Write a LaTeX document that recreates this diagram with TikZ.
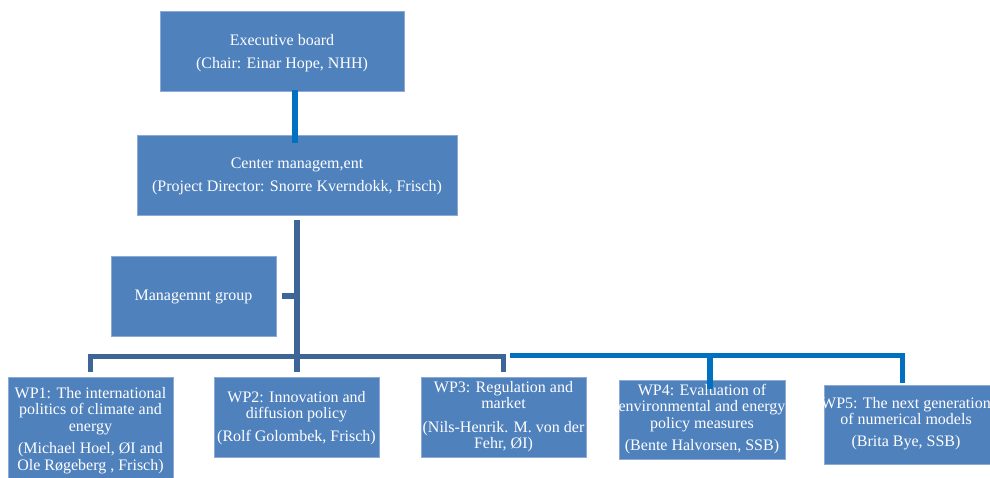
\documentclass[tikz,border=0pt]{standalone}
\usepackage{fontspec}
\setmainfont{Liberation Serif}
\usetikzlibrary{calc}
\definecolor{boxblue}{HTML}{4F81BD}
\definecolor{boxedge}{HTML}{8DAAD6}
\definecolor{brightl}{HTML}{0070C0}
\definecolor{darkl}{HTML}{3E6597}
\tikzset{
  box/.style={rectangle, fill=boxblue, draw=boxedge, line width=0.8pt, inner sep=0pt},
  txt/.style={text=white, inner sep=0pt, anchor=base},
  brightline/.style={draw=brightl, line width=5.5pt, line join=miter},
  darkline/.style={draw=darkl, line width=5.5pt, line join=miter},
}
\newcommand{\wptext}[1]{\parbox[t]{240pt}{\centering\fontsize{16}{16.5}\selectfont #1}}
\newcommand{\toptext}[1]{\parbox[t]{330pt}{\centering\fontsize{16}{23}\selectfont #1}}
\begin{document}
\begin{tikzpicture}[x=1pt,y=-1pt]
\useasboundingbox (0,0) rectangle (990,477);
% boxes
\node[box, minimum width=244, minimum height=80] (exec) at (282,51) {};
\node[box, minimum width=320, minimum height=80] (ce) at (297,175) {};
\node[box, minimum width=165, minimum height=80] (mg) at (193.5,296) {};
\node[box, minimum width=165, minimum height=103] (wp1) at (90.5,428.5) {};
\node[box, minimum width=165, minimum height=80] (wp2) at (296.5,417) {};
\node[box, minimum width=165, minimum height=80] (wp3) at (503.5,417) {};
\node[box, minimum width=166, minimum height=79] (wp4) at (702,419.5) {};
\node[box, minimum width=166, minimum height=79] (wp5) at (907,424.5) {};
% texts
\node[txt] (texec) at (282,45) {\toptext{Executive board\\(Chair: Einar Hope, NHH)}};
\node[txt] (tce) at (297,168) {\toptext{Center managem,ent\\(Project Director: Snorre Kverndokk, Frisch)}};
\node[txt] (tmg) at (193.5,300) {\wptext{Managemnt group}};
\node[txt] (twp1) at (90.5,398) {\wptext{WP1: The international\\politics of climate and\\energy\\[6pt](Michael Hoel, ØI and\\Ole Røgeberg , Frisch)}};
\node[txt] (twp2) at (296.5,402) {\wptext{WP2: Innovation and\\diffusion policy\\[6pt](Rolf Golombek, Frisch)}};
\node[txt] (twp3) at (503.5,392) {\wptext{WP3: Regulation and\\market\\[7pt](Nils-Henrik. M. von der\\Fehr, ØI)}};
\node[txt] (twp4) at (702,395) {\wptext{WP4: Evaluation of\\environmental and energy\\policy measures\\[6pt](Bente Halvorsen, SSB)}};
\node[txt] (twp5) at (906,408) {\wptext{WP5: The next generation\\of numerical models\\[5pt](Brita Bye, SSB)}};
% bus coordinates
\coordinate (busL) at (297,356.5);
\coordinate (busR) at (700,355.5);
% connectors
\draw[brightline] ($(exec.south)+(13,-1)$) -- ($(exec.south)+(13,52)$);
\draw[darkline] ($(ce.south)+(0,5)$) -- ($(wp2.north)+(0.5,-5)$);
\draw[darkline] ($(mg.east)+(6,0)$) -- (mg.east -| ce.south);
\draw[darkline] ($(wp1.north)+(0,-5)$) -- (wp1.north |- busL) -- (wp3.north |- busL) -- ($(wp3.north)+(0,-5)$);
\draw[brightline] ($(wp3.north |- busR)+(6.5,0)$) -- ($(wp5.north |- busR)+(-4.5,0)$) -- ($(wp5.north)+(-4.5,-2)$);
\draw[brightline] ($(wp4.north |- busR)+(8,0)$) -- ($(wp4.north)+(8,9)$);
\end{tikzpicture}
\end{document}
